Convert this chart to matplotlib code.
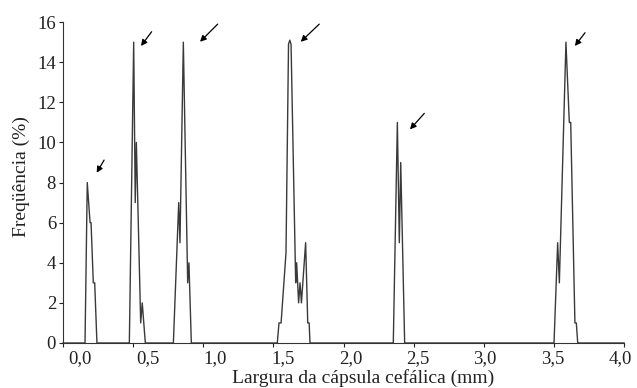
import matplotlib as mpl
mpl.use('Agg')
import matplotlib.pyplot as plt
import matplotlib.transforms as mtransforms

# head capsule width (mm) vs frequency (%)
width_mm = [0.0, 0.157, 0.173, 0.193, 0.200, 0.216, 0.226, 0.242,
            0.473, 0.504, 0.515, 0.523, 0.554, 0.565, 0.587,
            0.787, 0.825, 0.834, 0.858, 0.889, 0.898, 0.915,
            1.528, 1.540, 1.555, 1.590, 1.608, 1.617, 1.626, 1.659, 1.666, 1.680, 1.690, 1.700, 1.730, 1.745, 1.755, 1.761,
            2.355, 2.384, 2.398, 2.408, 2.436,
            3.501, 3.527, 3.539, 3.586, 3.610, 3.620, 3.650, 3.660, 3.670, 4.0]
freq_pct = [0, 0, 8, 6, 6, 3, 3, 0,
            0, 15, 7, 10, 1, 2, 0,
            0, 7, 5, 15, 3, 4, 0,
            0, 1, 1, 4.5, 14.9, 15.1, 14.9, 3, 4, 2, 3, 2, 5, 1, 1, 0,
            0, 11, 5, 9, 0,
            0, 5, 3, 15, 11, 11, 1, 1, 0, 0]

# arrows marking the instars: (tail x, tail y, head x, head y)
arrow_tail_x = [0.293, 0.632, 1.103, 1.827, 2.576, 3.722]
arrow_tail_y = [9.12, 15.52, 15.90, 15.90, 11.45, 15.47]
arrow_head_x = [0.240, 0.556, 0.977, 1.695, 2.474, 3.650]
arrow_head_y = [8.49, 14.81, 15.02, 15.02, 10.65, 14.81]

xticks = [0.0, 0.5, 1.0, 1.5, 2.0, 2.5, 3.0, 3.5, 4.0]
xtick_labels = ['0,0', '0,5', '1,0', '1,5', '2,0', '2,5', '3,0', '3,5', '4,0']
yticks = [0, 2, 4, 6, 8, 10, 12, 14, 16]

plt.rcParams['font.family'] = ['Liberation Serif', 'DejaVu Serif']

fig = plt.figure(figsize=(6.37, 3.88), dpi=100)
ax = fig.add_axes([0.0989, 0.116, 0.8807, 0.827])

ax.plot(width_mm, freq_pct, color='#3a3a3a', lw=1.0, clip_on=False)

for tx, ty, hx, hy in zip(arrow_tail_x, arrow_tail_y, arrow_head_x, arrow_head_y):
  ax.annotate('', xy=(hx, hy), xytext=(tx, ty),
              arrowprops=dict(arrowstyle='-|>', color='black', lw=0.9,
                              mutation_scale=9, shrinkA=0, shrinkB=0))

ax.set_xlim(0, 4.0)
ax.set_ylim(0, 16)
ax.set_xticks(xticks)
ax.set_xticklabels(xtick_labels)
ax.set_yticks(yticks)

ax.spines['top'].set_visible(False)
ax.spines['right'].set_visible(False)
ax.spines['left'].set_color('#333333')
ax.spines['bottom'].set_color('#333333')
ax.tick_params(axis='both', direction='out', length=3, width=0.8,
               labelsize=13.5, colors='#222222', pad=2)

# the x tick labels in the original sit slightly right of their ticks (more so on the left)
shift_px = [17, 15, 12, 10, 7, 4, 1, -1, -4]
for lab, dx in zip(ax.get_xticklabels(), shift_px):
  lab.set_transform(lab.get_transform() + mtransforms.ScaledTranslation(dx / 100., 0, fig.dpi_scale_trans))

ax.set_xlabel('Largura da cápsula cefálica (mm)', fontsize=14, color='#222222')
ax.set_ylabel('Freqüência (%)', fontsize=14, color='#222222')
ax.xaxis.set_label_coords(0.535, -0.08)
ax.yaxis.set_label_coords(-0.058, 0.52)

plt.savefig('out.png', dpi=100)
